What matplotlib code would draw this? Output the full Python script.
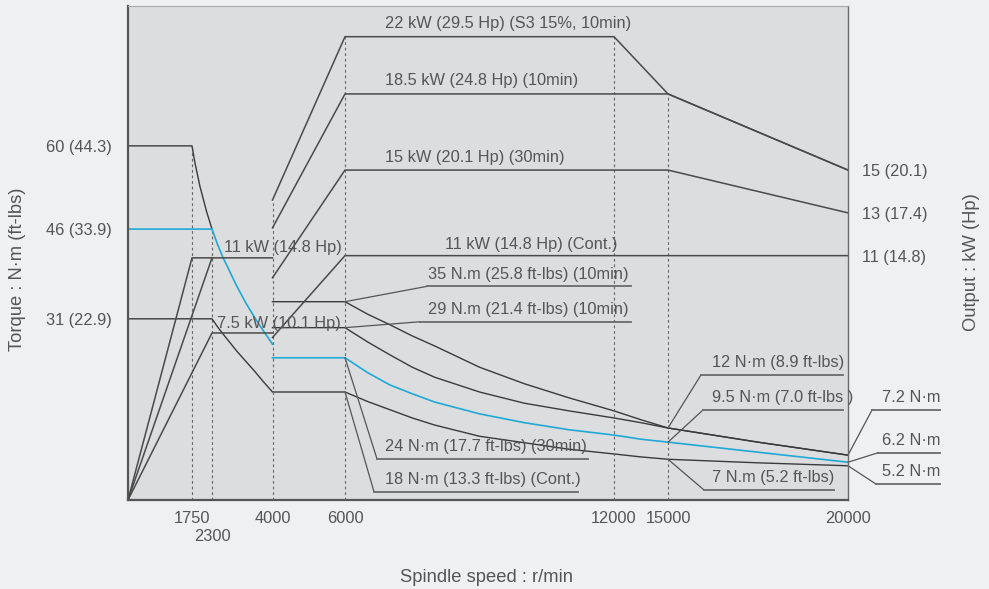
import numpy as np
import matplotlib
matplotlib.use('Agg')
import matplotlib.pyplot as plt
from matplotlib.ticker import NullLocator

plt.rcParams['font.family'] = ['Liberation Sans', 'DejaVu Sans']
FS = 11.8
TXT = '#555555'
DARK = '#3a3a3a'
CYAN = '#1fa9d6'

# speed axis is not linear: 6000-12000 is stretched, 12000-15000 squeezed
speed_knots = [0, 1750, 2300, 4000, 6000, 12000, 15000, 20000, 30000]
speed_pos = [0, 64, 84, 144.5, 217, 486, 540, 720, 1080]
# output axis is not linear either (torque-equivalent height of each kW mark)
power_knots = [0, 7.5, 11, 15, 18.5, 22, 30]
power_pos = [0, 28.3, 41.4, 55.9, 68.8, 78.5, 100.8]
T_TOP = 83.7

# ---- torque curves (N.m) ----
rpm_t60 = [0, 1750, 1832, 1970, 2154, 2300]
t_60 = [60.0, 60.0, 57.1, 53.1, 48.8, 45.9]

rpm_t46 = [0, 2300, 2450, 2600, 2800, 3000, 3250, 3500, 3750, 4000]
t_46 = [45.9, 45.9, 43.4, 41.2, 38.7, 36.2, 33.4, 30.9, 28.6, 26.4]

rpm_t31 = [0, 2300, 2450, 2600, 2800, 3000, 3250, 3500, 3750, 4000]
t_31 = [30.7, 30.7, 29.4, 28.2, 26.7, 25.2, 23.5, 21.8, 20.0, 18.3]

rpm_hi = [4000, 6000, 6500, 7000, 7500, 8000, 9000, 10000, 11000, 12000,
          13500, 15000, 17500, 20000]
t_s3 = [33.6, 33.6, 31.5, 29.7, 27.8, 26.1, 22.5, 19.7, 17.3, 15.1,
        13.6, 12.2, 9.8, 7.6]
t_10min = [29.2, 29.2, 26.8, 24.6, 22.5, 20.8, 18.3, 16.4, 15.1, 13.9,
           13.1, 12.2, 9.8, 7.6]
t_30min = [24.1, 24.1, 21.6, 19.5, 18.0, 16.6, 14.6, 13.1, 11.9, 11.0,
           10.3, 9.8, 8.1, 6.4]
t_cont = [18.3, 18.3, 16.7, 15.3, 13.9, 12.7, 10.8, 9.7, 8.6, 7.8,
          7.3, 6.9, 6.3, 5.8]

# ---- output curves (kW) ----
rpm_p_s3 = [4000, 6000, 12000, 15000, 20000]
p_s3 = [13.6, 22, 22, 18.5, 15]
rpm_p_10 = [4000, 6000, 15000, 20000]
p_10 = [12.3, 18.5, 18.5, 15]
rpm_p_30 = [4000, 6000, 15000, 20000]
p_30 = [10.0, 15, 15, 13]
rpm_p_cont = [4000, 6000, 20000]
p_cont = [7.3, 11, 11]
rpm_p_lo1 = [0, 1750, 4000]
p_lo1 = [0, 10.9, 10.9]
rpm_p_lo2 = [0, 2300]
p_lo2 = [0, 10.9]
rpm_p_lo3 = [0, 2300, 4000]
p_lo3 = [0, 7.5, 7.5]

x_ticks = [1750, 4000, 6000, 12000, 15000, 20000]
x_labels = ['1750', '4000', '6000', '12000', '15000', '20000']
x_ticks2 = [2300]
x_labels2 = ['2300']
t_ticks = [30.7, 45.9, 60.0]
t_labels = ['31 (22.9)', '46 (33.9)', '60 (44.3)']
p_ticks = [11, 13, 15]
p_labels = ['11 (14.8)', '13 (17.4)', '15 (20.1)']


def sp_fwd(x):
    return np.interp(x, speed_knots, speed_pos)

def sp_inv(x):
    return np.interp(x, speed_pos, speed_knots)

def pw_fwd(p):
    return np.interp(p, power_knots, power_pos)

def pw_inv(t):
    return np.interp(t, power_pos, power_knots)


fig = plt.figure(figsize=(9.89, 5.89), dpi=100)
fig.patch.set_facecolor('#eff0f2')
ax = fig.add_axes([128 / 989, 1 - 500 / 589, 720 / 989, 494 / 589])
ax.set_facecolor('#dcdddf')
ax.set_xscale('function', functions=(sp_fwd, sp_inv))
ax.set_xlim(0, 20000)
ax.set_ylim(0, T_TOP)

ax2 = ax.twinx()
ax2.set_yscale('function', functions=(pw_fwd, pw_inv))
ax2.set_ylim(0, float(pw_inv(T_TOP)))

# dashed speed marks
dash = dict(color='#666666', lw=0.8, linestyle=(0, (2.5, 2.5)))
ax.vlines([rpm_t60[1]], 0, t_60[1], **dash)
ax.vlines([rpm_t46[1]], 0, t_46[1], **dash)
ax2.vlines([rpm_p_s3[0]], 0, p_s3[0], **dash)
ax2.vlines([rpm_p_s3[1], rpm_p_s3[2]], 0, p_s3[1], **dash)
ax2.vlines([rpm_p_10[2]], 0, p_10[2], **dash)

# torque
ax.plot(rpm_t60, t_60, color=DARK, lw=1.0)
ax.plot(rpm_t31 + rpm_hi, t_31 + t_cont, color=DARK, lw=1.0)
ax.plot(rpm_hi, t_s3, color=DARK, lw=1.0)
ax.plot(rpm_hi, t_10min, color=DARK, lw=1.0)
ax.plot(rpm_t46, t_46, color=CYAN, lw=1.2)
ax.plot(rpm_hi, t_30min, color=CYAN, lw=1.2)

# output
for xs, ys in [(rpm_p_s3, p_s3), (rpm_p_10, p_10), (rpm_p_30, p_30),
               (rpm_p_cont, p_cont), (rpm_p_lo1, p_lo1), (rpm_p_lo2, p_lo2),
               (rpm_p_lo3, p_lo3)]:
    ax2.plot(xs, ys, color='#4a4a4a', lw=1.1)

# output labels: text, x, level, offset(pt)
p_notes = [
    ('22 kW (29.5 Hp) (S3 15%, 10min)', 6892, p_s3[1], 6),
    ('18.5 kW (24.8 Hp) (10min)', 6892, p_10[1], 6.2),
    ('15 kW (20.1 Hp) (30min)', 6892, p_30[1], 5.8),
    ('11 kW (14.8 Hp) (Cont.)', 8230, p_cont[1], 5),
    ('11 kW (14.8 Hp)', 2637, p_lo1[1], 4.5),
    ('7.5 kW (10.1 Hp)', 2440, p_lo3[1], 3.6),
]
for s, x, y, off in p_notes:
    ax2.annotate(s, (x, y), xytext=(0, off), textcoords='offset points',
                 va='baseline', ha='left', fontsize=FS, color=TXT)

# torque labels with leader + underline
t_notes = [
    ('35 N.m (25.8 ft-lbs) (10min)', (rpm_hi[1], t_s3[1]), 7852, 36.2, 7830, 12944),
    ('29 N.m (21.4 ft-lbs) (10min)', (rpm_hi[1], t_10min[1]), 7852, 30.2, 7673, 12944),
    ('24 N\u00b7m (17.7 ft-lbs) (30min)', (rpm_hi[1], t_30min[1]), 6892, 6.95, 6714, 11420),
    ('18 N\u00b7m (13.3 ft-lbs) (Cont.)', (rpm_hi[1], t_cont[1]), 6892, 1.4, 6647, 11197),
    ('12 N\u00b7m (8.9 ft-lbs)', (rpm_hi[11], t_s3[11]), 16222, 21.2, 15917, 19861),
    ('9.5 N\u00b7m (7.0 ft-lbs )', (rpm_hi[11], t_30min[11]), 16222, 15.25, 15972, 19861),
    ('7 N.m (5.2 ft-lbs)', (rpm_hi[11], t_cont[11]), 16222, 1.7, 16000, 19611),
    ('7.2 N\u00b7m', (rpm_hi[-1], t_s3[-1]), 20944, 15.25, 20667, 22556),
    ('6.2 N\u00b7m', (rpm_hi[-1], t_30min[-1]), 20944, 8.0, 20833, 22556),
    ('5.2 N\u00b7m', (rpm_hi[-1], t_cont[-1]), 20944, 2.7, 20778, 22556),
]
for s, (ax_x, ax_y), tx, uy, ux0, ux1 in t_notes:
    ax.plot([ax_x, ux0], [ax_y, uy], color='#555555', lw=0.9, clip_on=False)
    ax.plot([ux0, ux1], [uy, uy], color='#6a6a6a', lw=1.3, clip_on=False)
    ax.annotate(s, (tx, uy), xytext=(0, 5.5), textcoords='offset points',
                va='baseline', ha='left', fontsize=FS, color=TXT,
                annotation_clip=False)

# axes cosmetics
ax.set_xticks(x_ticks, labels=x_labels)
ax.set_xticks(x_ticks2, labels=x_labels2, minor=True)
ax.set_yticks(t_ticks, labels=t_labels)
ax2.set_yticks(p_ticks, labels=p_labels)
ax.yaxis.set_minor_locator(NullLocator())
ax2.yaxis.set_minor_locator(NullLocator())
ax.tick_params(axis='x', which='major', length=0, pad=8, labelsize=FS, labelcolor=TXT)
ax.tick_params(axis='x', which='minor', length=0, pad=21, labelsize=FS, labelcolor=TXT)
ax.tick_params(axis='y', length=0, pad=12, labelsize=FS, labelcolor=TXT)
ax2.tick_params(axis='y', length=0, pad=10, labelsize=FS, labelcolor=TXT)

for k in ['left', 'bottom']:
    ax.spines[k].set_color('#555555')
    ax.spines[k].set_linewidth(1.6)
ax.spines['right'].set_color('#6a6a6a')
ax.spines['right'].set_linewidth(1.0)
ax.spines['top'].set_color('#a8a8a8')
ax.spines['top'].set_linewidth(0.8)
for sp in ax2.spines.values():
    sp.set_visible(False)

fig.text(487 / 989, 1 - 578 / 589, 'Spindle speed : r/min', ha='center', va='center',
         fontsize=13.2, color=TXT)
fig.text(18 / 989, 1 - 269 / 589, 'Torque : N\u00b7m (ft-lbs)', rotation=90,
         ha='center', va='center', fontsize=13.2, color=TXT)
fig.text(972 / 989, 1 - 262 / 589, 'Output : kW (Hp)', rotation=90,
         ha='center', va='center', fontsize=13.2, color=TXT)

fig.savefig('out.png', dpi=100, facecolor=fig.get_facecolor())
